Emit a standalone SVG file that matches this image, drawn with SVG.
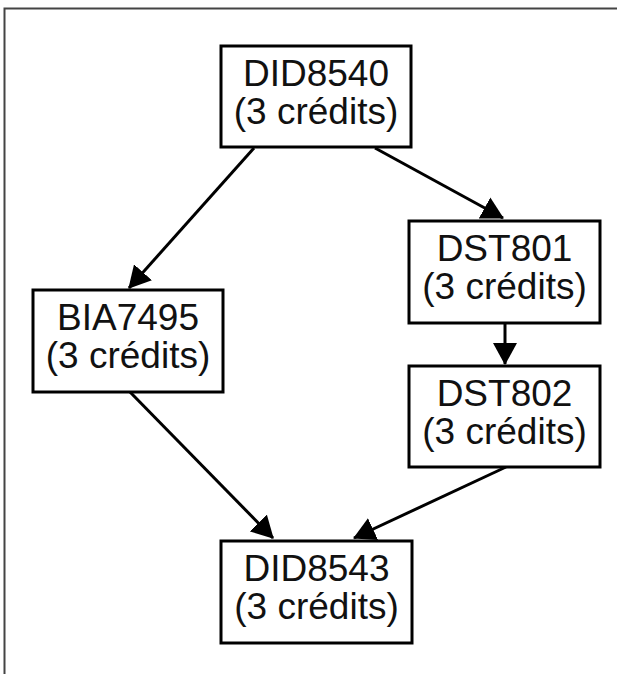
<svg xmlns="http://www.w3.org/2000/svg" width="617" height="674" viewBox="0 0 617 674">
<style>
.box{fill:#fff;stroke:#000;stroke-width:3}
.lbl{font-family:"Liberation Sans",Arial,sans-serif;font-size:37px;fill:#111;text-anchor:middle}
.edge{stroke:#000;stroke-width:3;fill:none;marker-end:url(#ah)}
</style>
<defs>
<marker id="ah" markerUnits="userSpaceOnUse" markerWidth="22" markerHeight="24" refX="21" refY="12" orient="auto" viewBox="0 0 22 24">
<path d="M0,0 L22,12 L0,24 z" fill="#000"/>
</marker>
</defs>
<rect width="617" height="674" fill="#fff"/>
<path d="M4.5,674 V8.5 H617" fill="none" stroke="#444" stroke-width="2"/>
<g id="connectors">
<line class="edge" x1="254" y1="148" x2="129" y2="288"/>
<line class="edge" x1="375" y1="148" x2="503" y2="218"/>
<line class="edge" x1="505" y1="323" x2="505" y2="364"/>
<line class="edge" x1="130" y1="392" x2="273" y2="538"/>
<line class="edge" x1="506" y1="467" x2="354" y2="538"/>
</g>
<g id="DID8540">
<rect class="box" x="221" y="46" width="190" height="101"/>
<text class="lbl" x="316" y="86">DID8540</text>
<text class="lbl" x="316" y="124">(3 crédits)</text>
</g>
<g id="BIA7495">
<rect class="box" x="33" y="290" width="190" height="102"/>
<text class="lbl" x="128" y="330">BIA7495</text>
<text class="lbl" x="128" y="368">(3 crédits)</text>
</g>
<g id="DST801">
<rect class="box" x="409" y="221" width="191" height="102"/>
<text class="lbl" x="504.5" y="261">DST801</text>
<text class="lbl" x="504.5" y="299">(3 crédits)</text>
</g>
<g id="DST802">
<rect class="box" x="409" y="366" width="191" height="101"/>
<text class="lbl" x="504.5" y="406">DST802</text>
<text class="lbl" x="504.5" y="444">(3 crédits)</text>
</g>
<g id="DID8543">
<rect class="box" x="221" y="541" width="191" height="102"/>
<text class="lbl" x="316.5" y="581">DID8543</text>
<text class="lbl" x="316.5" y="619">(3 crédits)</text>
</g>
</svg>
